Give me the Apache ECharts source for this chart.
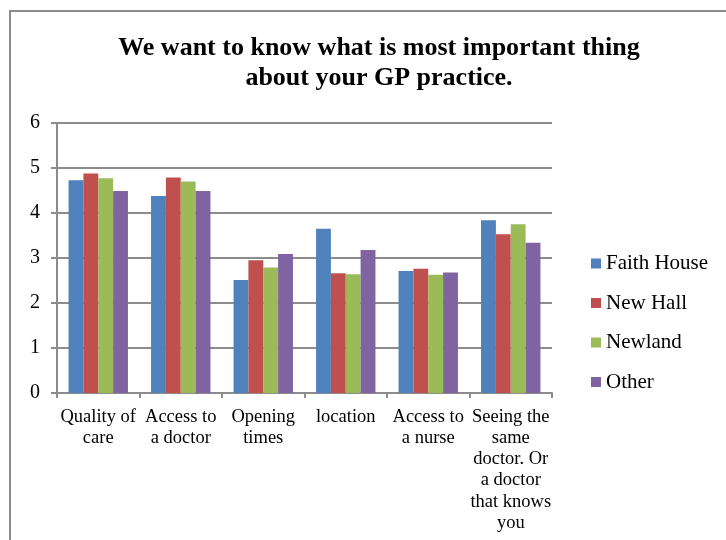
<!DOCTYPE html>
<html>
<head>
<meta charset="utf-8">
<script src="https://cdn.jsdelivr.net/npm/echarts@6/dist/echarts.min.js"></script>
<style>
  html, body { margin: 0; padding: 0; background: #fff; }
  #chart { width: 726px; height: 540px; }
</style>
</head>
<body>
<div id="chart"></div>
<script>
// Survey categories (line breaks as drawn under the axis)
const categories = [
  'Quality of\ncare',
  'Access to\na doctor',
  'Opening\ntimes',
  'location',
  'Access to\na nurse',
  'Seeing the\nsame\ndoctor. Or\na doctor\nthat knows\nyou'
];

// Average scores per practice
const faithHouse = [4.73, 4.38, 2.51, 3.65, 2.71, 3.84];
const newHall    = [4.88, 4.79, 2.95, 2.66, 2.76, 3.53];
const newland    = [4.77, 4.70, 2.79, 2.64, 2.63, 3.75];
const other      = [4.49, 4.49, 3.09, 3.18, 2.68, 3.34];

const seriesNames = ['Faith House', 'New Hall', 'Newland', 'Other'];
const seriesData = [faithHouse, newHall, newland, other];
const colors = ['#4F81BD', '#C0504D', '#9BBB59', '#8064A2'];

const serif = '"Liberation Serif", "DejaVu Serif", serif';
const chart = echarts.init(document.getElementById('chart'), null, { renderer: 'canvas' });

chart.setOption({
  animation: false,
  backgroundColor: '#fff',
  color: colors,
  title: {
    text: 'We want to know what is most important thing\nabout your GP practice.',
    left: 374,
    textAlign: 'center',
    top: 28,
    textStyle: {
      fontFamily: serif,
      fontWeight: 'bold',
      fontSize: 26,
      lineHeight: 30,
      color: '#000'
    }
  },
  graphic: [{
    type: 'rect',
    shape: { x: 10, y: 11, width: 800, height: 600 },
    style: { fill: 'none', stroke: '#8c8c8c', lineWidth: 2 },
    silent: true,
    z: -1
  }],
  legend: {
    orient: 'vertical',
    left: 591,
    top: 253,
    padding: 0,
    itemWidth: 10,
    itemHeight: 10,
    itemGap: 18.5,
    icon: 'rect',
    textStyle: { fontFamily: serif, fontSize: 21, color: '#000' },
    data: seriesNames
  },
  grid: {
    left: 57, right: 174, top: 123, bottom: 147,
    containLabel: false,
    outerBoundsMode: 'none'
  },
  xAxis: {
    type: 'category',
    data: categories,
    axisLine: { lineStyle: { color: '#8c8c8c', width: 2 } },
    axisTick: { show: true, length: 5, lineStyle: { color: '#8c8c8c', width: 2 } },
    axisLabel: {
      interval: 0,
      margin: 13,
      fontFamily: serif,
      fontSize: 18.5,
      lineHeight: 21.3,
      color: '#000'
    }
  },
  yAxis: {
    type: 'value',
    min: 0,
    max: 6,
    interval: 1,
    axisLine: { show: true, lineStyle: { color: '#8c8c8c', width: 2 } },
    axisTick: { show: true, length: 6, lineStyle: { color: '#8c8c8c', width: 2 } },
    splitLine: { lineStyle: { color: '#8c8c8c', width: 2 } },
    axisLabel: { fontFamily: serif, fontSize: 20, color: '#000', margin: 17 }
  },
  series: seriesData.map((d, i) => ({
    name: seriesNames[i],
    type: 'bar',
    data: d,
    barGap: '0%',
    barCategoryGap: '28%',
    itemStyle: { color: colors[i] }
  }))
});
</script>
</body>
</html>
